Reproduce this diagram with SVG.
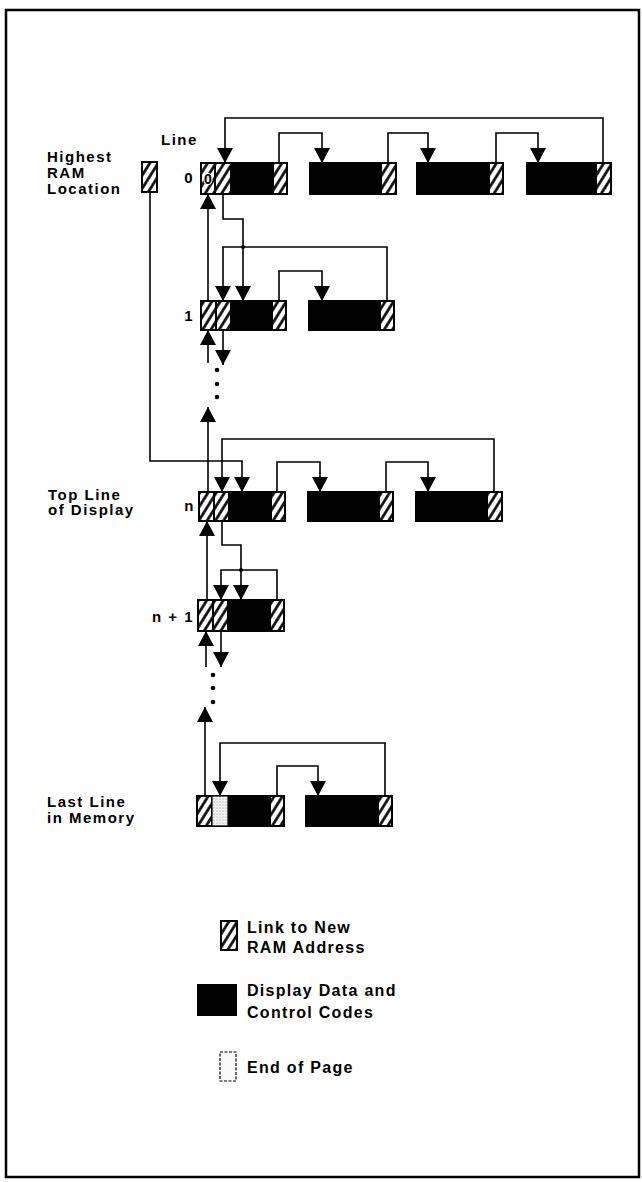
<svg xmlns="http://www.w3.org/2000/svg" width="642" height="1182" viewBox="0 0 642 1182">
<style>
.t{font-family:"Liberation Sans",Arial,sans-serif;font-weight:bold;font-size:15px;letter-spacing:1.5px;fill:#000}
.lg{font-family:"Liberation Sans",Arial,sans-serif;font-weight:bold;font-size:16px;letter-spacing:1.3px;fill:#000}
.blk{fill:#000;stroke:#000;stroke-width:2}
.hc{fill:url(#hatch);stroke:#000;stroke-width:2}
.ep{fill:url(#dots);stroke:#000;stroke-width:1.2}
.c{fill:none;stroke:#000;stroke-width:1.6}
.a{fill:none;stroke:#000;stroke-width:1.6;marker-end:url(#ah)}
</style>
<defs>
<pattern id="hatch" patternUnits="userSpaceOnUse" width="7" height="7" patternTransform="rotate(32)">
<rect width="7" height="7" fill="#fff"/>
<line x1="3.5" y1="-1" x2="3.5" y2="8" stroke="#000" stroke-width="2.6"/>
</pattern>
<pattern id="dots" patternUnits="userSpaceOnUse" width="3" height="3">
<rect width="3" height="3" fill="#f2f2f2"/>
<circle cx="1" cy="1" r="0.6" fill="#999"/>
</pattern>
<marker id="ah" markerUnits="userSpaceOnUse" markerWidth="16" markerHeight="16" refX="15" refY="8" orient="auto">
<path d="M0,0 L15,8 L0,16 Z" fill="#000"/>
</marker>
</defs>
<rect x="6" y="10" width="633" height="1167" fill="#fff" stroke="#000" stroke-width="2.5"/>

<g id="labels">
<text class="t" x="47" y="162">Highest</text>
<text class="t" x="47" y="178">RAM</text>
<text class="t" x="47" y="194">Location</text>
<text class="t" x="161" y="145">Line</text>
<text class="t" x="194" y="183" text-anchor="end" letter-spacing="0">0</text>
<text class="t" x="194" y="321" text-anchor="end" letter-spacing="0">1</text>
<text class="t" x="48" y="500">Top Line</text>
<text class="t" x="48" y="515">of Display</text>
<text class="t" x="195" y="511" text-anchor="end" letter-spacing="0">n</text>
<text class="t" x="194" y="622" text-anchor="end" letter-spacing="2">n + 1</text>
<text class="t" x="47" y="807">Last Line</text>
<text class="t" x="47" y="823">in Memory</text>
</g>

<g id="highest-ram">
<rect class="hc" x="142" y="162" width="15" height="30"/>
</g>

<g id="row0-a">
<rect class="blk" x="201" y="163" width="86" height="31"/>
<rect class="hc" x="201" y="163" width="14" height="31"/>
<rect class="hc" x="215" y="163" width="16" height="31"/>
<rect class="hc" x="273" y="163" width="14" height="31"/>
<text x="208" y="184" text-anchor="middle" font-family="Liberation Sans, Arial, sans-serif" font-weight="bold" font-size="14" fill="#000" stroke="#fff" stroke-width="2" paint-order="stroke">0</text>
</g>
<g id="row0-b"><rect class="blk" x="310" y="163" width="86" height="31"/><rect class="hc" x="381" y="163" width="15" height="31"/></g>
<g id="row0-c"><rect class="blk" x="417" y="163" width="86" height="31"/><rect class="hc" x="489" y="163" width="14" height="31"/></g>
<g id="row0-d"><rect class="blk" x="527" y="163" width="84" height="31"/><rect class="hc" x="596" y="163" width="15" height="31"/></g>

<g id="row1-a">
<rect class="blk" x="201" y="301" width="85" height="29"/>
<rect class="hc" x="201" y="301" width="15" height="29"/>
<rect class="hc" x="216" y="301" width="15" height="29"/>
<rect class="hc" x="272" y="301" width="14" height="29"/>
</g>
<g id="row1-b"><rect class="blk" x="309" y="301" width="85" height="29"/><rect class="hc" x="380" y="301" width="14" height="29"/></g>

<g id="rown-a">
<rect class="blk" x="199" y="492" width="86" height="29"/>
<rect class="hc" x="199" y="492" width="15" height="29"/>
<rect class="hc" x="214" y="492" width="15" height="29"/>
<rect class="hc" x="271" y="492" width="14" height="29"/>
</g>
<g id="rown-b"><rect class="blk" x="308" y="492" width="85" height="29"/><rect class="hc" x="379" y="492" width="14" height="29"/></g>
<g id="rown-c"><rect class="blk" x="416" y="492" width="86" height="29"/><rect class="hc" x="487" y="492" width="15" height="29"/></g>

<g id="rown1-a">
<rect class="blk" x="198" y="600" width="86" height="31"/>
<rect class="hc" x="198" y="600" width="15" height="31"/>
<rect class="hc" x="213" y="600" width="15" height="31"/>
<rect class="hc" x="270" y="600" width="14" height="31"/>
</g>

<g id="last-a">
<rect class="blk" x="197" y="796" width="87" height="30"/>
<rect class="hc" x="197" y="796" width="15" height="30"/>
<rect class="ep" x="212" y="796" width="16" height="30"/>
<rect class="hc" x="270" y="796" width="14" height="30"/>
</g>
<g id="last-b"><rect class="blk" x="306" y="796" width="86" height="30"/><rect class="hc" x="378" y="796" width="14" height="30"/></g>

<g id="connectors">
<path class="a" d="M603,163 V118 H225 V163"/>
<path class="a" d="M279,163 V133 H322 V163"/>
<path class="a" d="M388,163 V133 H428 V163"/>
<path class="a" d="M496,163 V133 H538 V163"/>
<path class="a" d="M208,301 V194"/>
<path class="a" d="M223,194 V219 H243 V301"/>
<path class="a" d="M387,301 V247 H223 V301"/>
<circle cx="243" cy="247" r="2" fill="#000"/>
<path class="a" d="M279,301 V271 H322 V301"/>
<path class="a" d="M208,363 V330"/>
<path class="a" d="M223,330 V365"/>
<circle cx="217" cy="370" r="2.3" fill="#000"/>
<circle cx="217" cy="384" r="2.3" fill="#000"/>
<circle cx="217" cy="397" r="2.3" fill="#000"/>
<path class="a" d="M208,492 V407"/>
<path class="a" d="M150,192 V461 H242 V492"/>
<path class="a" d="M494,492 V439 H222 V492"/>
<path class="a" d="M277,492 V462 H320 V492"/>
<path class="a" d="M386,492 V462 H428 V492"/>
<path class="a" d="M207,600 V521"/>
<path class="a" d="M222,521 V545 H241 V600"/>
<path class="a" d="M277,600 V570 H221 V600"/>
<circle cx="241" cy="570" r="2" fill="#000"/>
<path class="a" d="M206,667 V631"/>
<path class="a" d="M221,631 V667"/>
<circle cx="213" cy="675" r="2.3" fill="#000"/>
<circle cx="213" cy="688" r="2.3" fill="#000"/>
<circle cx="213" cy="702" r="2.3" fill="#000"/>
<path class="a" d="M205,796 V707"/>
<path class="a" d="M385,796 V743 H220 V796"/>
<path class="a" d="M277,796 V766 H318 V796"/>
</g>

<g id="legend">
<rect class="hc" x="221" y="921" width="16" height="29" stroke-width="1.5"/>
<text class="lg" x="247" y="933">Link to New</text>
<text class="lg" x="247" y="953">RAM Address</text>
<rect x="197" y="984" width="40" height="32" fill="#000"/>
<text class="lg" x="247" y="996">Display Data and</text>
<text class="lg" x="247" y="1018">Control Codes</text>
<rect x="220" y="1052" width="16" height="29" fill="#fafafa" stroke="#000" stroke-width="1.2" stroke-dasharray="3 1.5"/>
<text class="lg" x="247" y="1073">End of Page</text>
</g>
</svg>
